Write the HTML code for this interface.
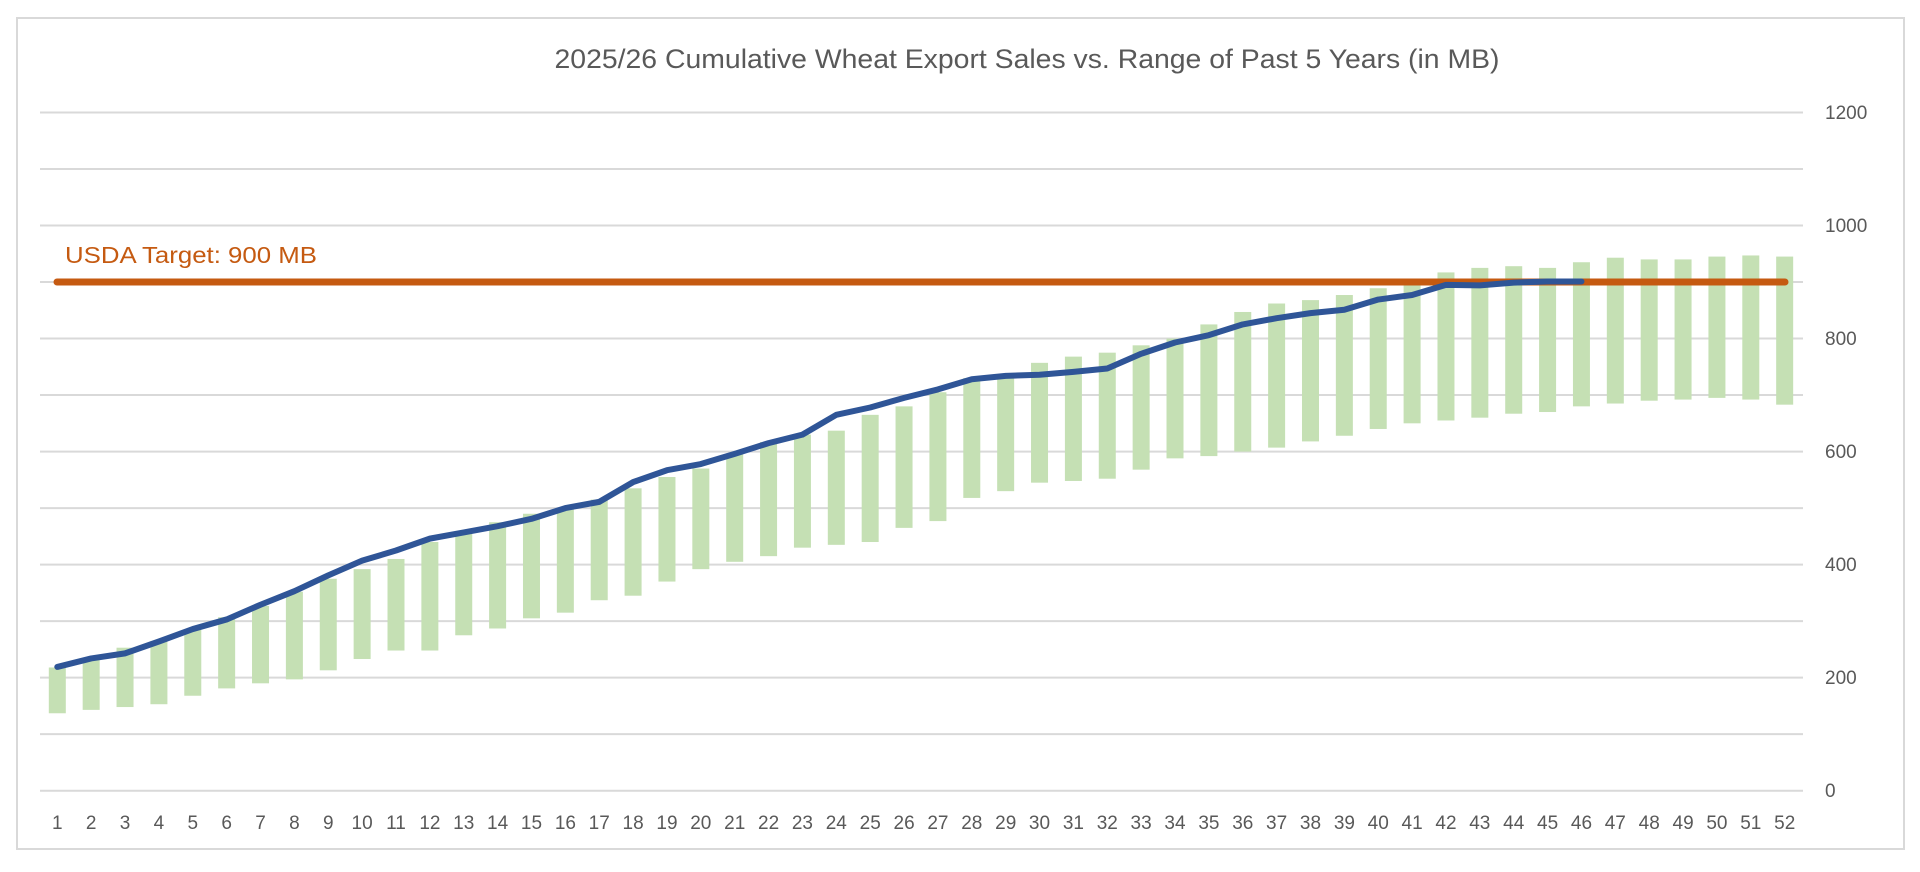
<!DOCTYPE html>
<html><head><meta charset="utf-8"><style>
html,body{margin:0;padding:0;background:#fff;}
svg{display:block;font-family:"Liberation Sans",sans-serif;}
</style></head><body>
<svg id="s" width="1920" height="872" xmlns="http://www.w3.org/2000/svg">
<rect x="0" y="0" width="1920" height="872" fill="#fff"/>
<rect x="17" y="18" width="1887" height="831" fill="#fff" stroke="#D9D9D9" stroke-width="2"/>
<g id="grid" stroke="#D9D9D9" stroke-width="2"></g>
<g id="bars" fill="#C5E0B4"></g>
<line x1="57" y1="282" x2="1785" y2="282" stroke="#C55A11" stroke-width="7" stroke-linecap="round"/>
<polyline id="ln" fill="none" stroke="#2F5597" stroke-width="6" stroke-linejoin="round" stroke-linecap="round"/>
<text x="1027" y="68" font-size="27" fill="#595959" text-anchor="middle" textLength="945" lengthAdjust="spacingAndGlyphs">2025/26 Cumulative Wheat Export Sales vs. Range of Past 5 Years (in MB)</text>
<text x="65" y="263" font-size="23" fill="#C55A11" textLength="252" lengthAdjust="spacingAndGlyphs">USDA Target: 900 MB</text>
<g font-size="19" fill="#595959">
<text x="1825" y="119">1200</text>
<text x="1825" y="232">1000</text>
<text x="1825" y="345">800</text>
<text x="1825" y="458">600</text>
<text x="1825" y="571">400</text>
<text x="1825" y="684">200</text>
<text x="1825" y="797">0</text>
</g>
<g font-size="19" fill="#595959" text-anchor="middle">
<text x="57.3" y="829">1</text><text x="91.2" y="829">2</text><text x="125.0" y="829">3</text><text x="158.9" y="829">4</text><text x="192.8" y="829">5</text><text x="226.7" y="829">6</text><text x="260.5" y="829">7</text><text x="294.4" y="829">8</text><text x="328.3" y="829">9</text><text x="362.1" y="829">10</text><text x="396.0" y="829">11</text><text x="429.9" y="829">12</text><text x="463.7" y="829">13</text><text x="497.6" y="829">14</text><text x="531.5" y="829">15</text><text x="565.4" y="829">16</text><text x="599.2" y="829">17</text><text x="633.1" y="829">18</text><text x="667.0" y="829">19</text><text x="700.8" y="829">20</text><text x="734.7" y="829">21</text><text x="768.6" y="829">22</text><text x="802.4" y="829">23</text><text x="836.3" y="829">24</text><text x="870.2" y="829">25</text><text x="904.1" y="829">26</text><text x="937.9" y="829">27</text><text x="971.8" y="829">28</text><text x="1005.7" y="829">29</text><text x="1039.5" y="829">30</text><text x="1073.4" y="829">31</text><text x="1107.3" y="829">32</text><text x="1141.1" y="829">33</text><text x="1175.0" y="829">34</text><text x="1208.9" y="829">35</text><text x="1242.8" y="829">36</text><text x="1276.6" y="829">37</text><text x="1310.5" y="829">38</text><text x="1344.4" y="829">39</text><text x="1378.2" y="829">40</text><text x="1412.1" y="829">41</text><text x="1446.0" y="829">42</text><text x="1479.8" y="829">43</text><text x="1513.7" y="829">44</text><text x="1547.6" y="829">45</text><text x="1581.5" y="829">46</text><text x="1615.3" y="829">47</text><text x="1649.2" y="829">48</text><text x="1683.1" y="829">49</text><text x="1716.9" y="829">50</text><text x="1750.8" y="829">51</text><text x="1784.7" y="829">52</text>
</g>
</svg>
<script>
var NS="http://www.w3.org/2000/svg";
function Y(v){return 790.7-v*0.5652;}
function X(i){return 57.3+(i-1)*33.87;}
var g=document.getElementById("grid");
for(var v=0;v<=1200;v+=100){var l=document.createElementNS(NS,"line");l.setAttribute("x1",40);l.setAttribute("x2",1803);l.setAttribute("y1",Y(v));l.setAttribute("y2",Y(v));g.appendChild(l);}
var bars=[[137,218],[143,232],[148,253],[153,265],[168,286],[181,307],[190,327],[197,352],[213,375],[233,392],[248,410],[248,440],[275,455],[287,475],[305,490],[315,498],[337,515],[345,535],[370,555],[392,570],[405,597],[415,617],[430,630],[435,637],[440,665],[465,680],[477,705],[518,730],[530,735],[545,757],[548,768],[552,775],[568,788],[588,800],[592,825],[600,847],[607,862],[618,868],[628,877],[640,889],[650,900],[655,917],[660,925],[667,928],[670,925],[680,935],[685,943],[690,940],[692,940],[695,945],[692,947],[683,945]];
var b=document.getElementById("bars");
bars.forEach(function(d,k){var r=document.createElementNS(NS,"rect");r.setAttribute("x",X(k+1)-8.5);r.setAttribute("width",17);r.setAttribute("y",Y(d[1]));r.setAttribute("height",Y(d[0])-Y(d[1]));b.appendChild(r);});
var line=[219,234,243,264,286,303,329,353,381,407,425,446,457,468,481,500,511,546,567,578,596,615,630,665,678,695,710,728,734,736,741,747,773,793,806,825,836,845,851,869,877,895,894,899,901,901];
document.getElementById("ln").setAttribute("points",line.map(function(v,k){return X(k+1)+","+Y(v);}).join(" "));
</script>
</body></html>
